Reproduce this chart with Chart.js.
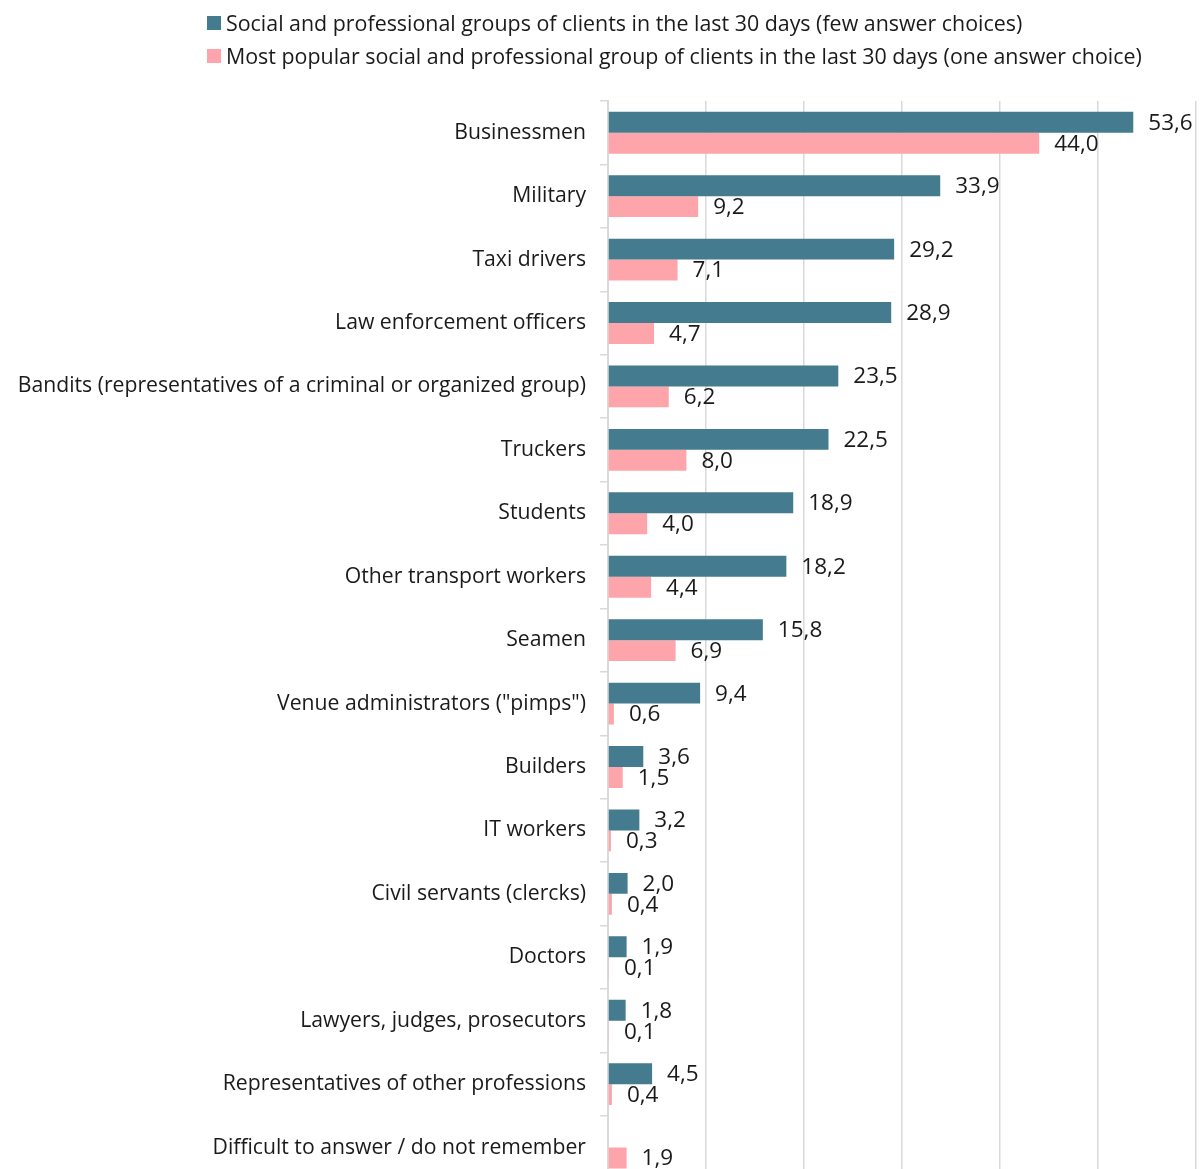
<!DOCTYPE html>
<html>
<head>
<meta charset="utf-8">
<script src="https://cdn.jsdelivr.net/npm/chart.js@4"></script>
<style>
    html, body { margin: 0; padding: 0; background: #fff; overflow: hidden; }
    #wrap { position: relative; width: 1204px; height: 1206px; }
    #legenda { position: absolute; left: 207px; top: 6px; font-family: "Open Sans", sans-serif; font-size: 21.4px; color: #1a1a1a; }
    .item { display: flex; align-items: center; height: 33px; white-space: nowrap; }
    .caixa { width: 14px; height: 14px; margin-right: 5px; }
</style>
</head>
<body>
<div id="wrap">
    <canvas id="grafico1" width="1204" height="1206"></canvas>
    <div id="legenda"></div>
</div>
<script>
const categorias = [
    'Businessmen',
    'Military',
    'Taxi drivers',
    'Law enforcement officers',
    'Bandits (representatives of a criminal or organized group)',
    'Truckers',
    'Students',
    'Other transport workers',
    'Seamen',
    'Venue administrators ("pimps")',
    'Builders',
    'IT workers',
    'Civil servants (clercks)',
    'Doctors',
    'Lawyers, judges, prosecutors',
    'Representatives of other professions',
    'Difficult to answer / do not remember'
]

const variasRespostas = [53.6, 33.9, 29.2, 28.9, 23.5, 22.5, 18.9, 18.2, 15.8, 9.4, 3.6, 3.2, 2.0, 1.9, 1.8, 4.5, null]
const umaResposta = [44.0, 9.2, 7.1, 4.7, 6.2, 8.0, 4.0, 4.4, 6.9, 0.6, 1.5, 0.3, 0.4, 0.1, 0.1, 0.4, 1.9]

const nomesSeries = [
    'Social and professional groups of clients in the last 30 days (few answer choices)',
    'Most popular social and professional group of clients in the last 30 days (one answer choice)'
]
const cores = ['#457b8e', '#fea5ab']

const fonte = '"Open Sans", sans-serif'
const corTexto = '#1a1a1a'
const corGrade = '#d9d9d9'

// legenda em HTML, alinhada à esquerda
const legenda = document.getElementById('legenda')
nomesSeries.forEach((nome, i) => {
    const item = document.createElement('div')
    item.className = 'item'
    const caixa = document.createElement('span')
    caixa.className = 'caixa'
    caixa.style.background = cores[i]
    item.appendChild(caixa)
    item.appendChild(document.createTextNode(nome))
    legenda.appendChild(item)
})

// escreve o valor ao lado de cada barra
const rotulos = {
    id: 'rotulos',
    afterDatasetsDraw(chart) {
        const c = chart.ctx
        c.save()
        c.font = '22.5px ' + fonte
        c.fillStyle = corTexto
        c.textAlign = 'left'
        c.textBaseline = 'middle'
        chart.data.datasets.forEach((ds, i) => {
            chart.getDatasetMeta(i).data.forEach((barra, j) => {
                const v = ds.data[j]
                if (v === null) return
                c.fillText(v.toFixed(1).replace('.', ','), barra.x + 15, barra.y + 1)
            })
        })
        c.restore()
    }
}

const ctx = document.getElementById('grafico1')

let grafico1 = new Chart(ctx, {
    type: 'bar',
    data: {
        labels: categorias,
        datasets: [
            {
                label: nomesSeries[0],
                data: variasRespostas,
                backgroundColor: cores[0],
                categoryPercentage: 0.66,
                barPercentage: 1.0
            },
            {
                label: nomesSeries[1],
                data: umaResposta,
                backgroundColor: cores[1],
                categoryPercentage: 0.66,
                barPercentage: 1.0
            }
        ]
    },
    options: {
        indexAxis: 'y',
        responsive: false,
        animation: false,
        layout: { padding: { top: 101, right: 8, bottom: 0, left: 0 } },
        plugins: {
            legend: { display: false },
            tooltip: { enabled: false }
        },
        scales: {
            x: {
                min: 0,
                max: 60,
                afterFit: (escala) => { escala.height = 0 },
                ticks: { display: false, stepSize: 10 },
                grid: { color: corGrade, lineWidth: 1.5, drawTicks: false },
                border: { display: false }
            },
            y: {
                afterFit: (escala) => { escala.width = 608 },
                ticks: {
                    color: corTexto,
                    font: { family: fonte, size: 21.2 },
                    padding: 14,
                    autoSkip: false
                },
                grid: { color: corGrade, lineWidth: 1.5, drawOnChartArea: false, tickLength: 8 },
                border: { color: corGrade, width: 2 }
            }
        }
    },
    plugins: [rotulos]
})
</script>
</body>
</html>
